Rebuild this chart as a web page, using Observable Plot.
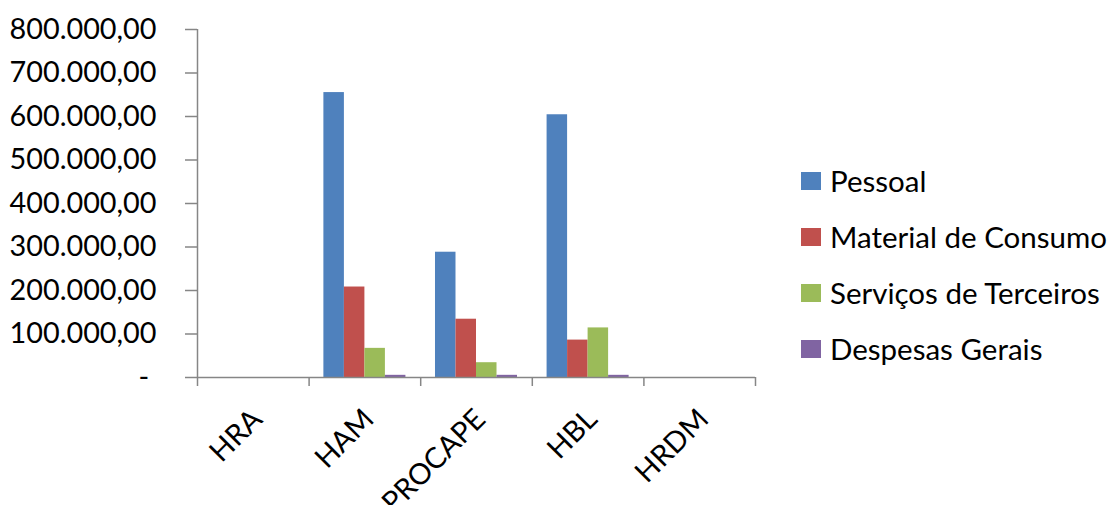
<!DOCTYPE html>
<html>
<head>
<meta charset="utf-8">
<script src="https://cdn.jsdelivr.net/npm/d3@7"></script>
<script src="https://cdn.jsdelivr.net/npm/@observablehq/plot@0.6"></script>
<style>
  html, body { margin: 0; padding: 0; background: #ffffff; }
  #wrap { position: relative; width: 1111px; height: 505px; font-family: Lato, "Open Sans", sans-serif; color: #000; overflow: hidden; }
  #chart svg { display: block; }
  #legend { position: absolute; left: 801px; top: 153px; }
  .row { display: flex; align-items: center; height: 56px; }
  .sw { width: 20px; height: 18px; margin-right: 9px; flex: none; }
  .lab { font-size: 29.5px; line-height: 1; white-space: nowrap; }
</style>
</head>
<body>
<div id="wrap">
  <div id="chart"></div>
  <div id="legend"></div>
</div>
<script>
// ---- data ----
const categories = ["HRA", "HAM", "PROCAPE", "HBL", "HRDM"];
const series = ["Pessoal", "Material de Consumo", "Serviços de Terceiros", "Despesas Gerais"];
const pessoal = [0, 655000, 288000, 604000, 0];
const materialDeConsumo = [0, 208000, 134000, 86000, 0];
const servicosDeTerceiros = [0, 67000, 34000, 114000, 0];
const despesasGerais = [0, 5000, 5000, 5000, 0];
const yTicks = [0, 100000, 200000, 300000, 400000, 500000, 600000, 700000, 800000];
const colors = ["#4F81BD", "#C0504D", "#9BBB59", "#8064A2"];

// ---- build table ----
const seriesValues = [pessoal, materialDeConsumo, servicosDeTerceiros, despesasGerais];
const groupWidth = 0.735;
const barW = groupWidth / series.length;
const data = categories.flatMap((c, ci) =>
  seriesValues.map((vals, si) => ({
    category: c, series: series[si], value: vals[ci],
    x1: ci + (1 - groupWidth) / 2 + si * barW,
    x2: ci + (1 - groupWidth) / 2 + (si + 1) * barW
  }))
);

const ptBR = d3.formatLocale({decimal: ",", thousands: ".", grouping: [3], currency: ["R$ ", ""]});
const f2 = ptBR.format(",.2f");
const fmtY = d => d === 0 ? "-\u00a0" : f2(d);
const axisGray = "#868686";

const chart = Plot.plot({
  width: 1111,
  height: 505,
  marginLeft: 197,
  marginRight: 356,
  marginTop: 29,
  marginBottom: 128,
  style: {fontFamily: "Lato, 'Open Sans', sans-serif", fontSize: "28px", color: "#000", background: "transparent", overflow: "visible"},
  x: {domain: [0, categories.length], axis: null, label: null},
  y: {domain: [0, 800000], axis: null, label: null},
  color: {domain: series, range: colors},
  marks: [
    Plot.rect(data, {x1: "x1", x2: "x2", y1: 0, y2: "value", fill: "series"}),
    Plot.ruleY([0], {stroke: axisGray, strokeWidth: 1.5}),
    Plot.ruleX([0], {stroke: axisGray, strokeWidth: 1.5}),
    Plot.axisY(yTicks, {label: null, tickSize: 12, tickPadding: 29, tickFormat: fmtY, stroke: axisGray, fill: "#000", fontSize: 28.8, strokeWidth: 1.5}),
    Plot.axisX(d3.range(categories.length + 1), {label: null, tickSize: 9, tickFormat: () => "", stroke: axisGray, strokeWidth: 1.5}),
    Plot.text(categories, {x: (d, i) => i + 0.5, y: 0, text: d => d, rotate: -45, textAnchor: "end", dx: 4, dy: 37, fontSize: 29, fill: "#000"})
  ]
});
document.getElementById("chart").appendChild(chart);

const legend = document.getElementById("legend");
series.forEach((s, i) => {
  const row = document.createElement("div");
  row.className = "row";
  const sw = document.createElement("div");
  sw.className = "sw";
  sw.style.background = colors[i];
  const lab = document.createElement("span");
  lab.className = "lab";
  lab.textContent = s;
  row.appendChild(sw);
  row.appendChild(lab);
  legend.appendChild(row);
});
</script>
</body>
</html>
